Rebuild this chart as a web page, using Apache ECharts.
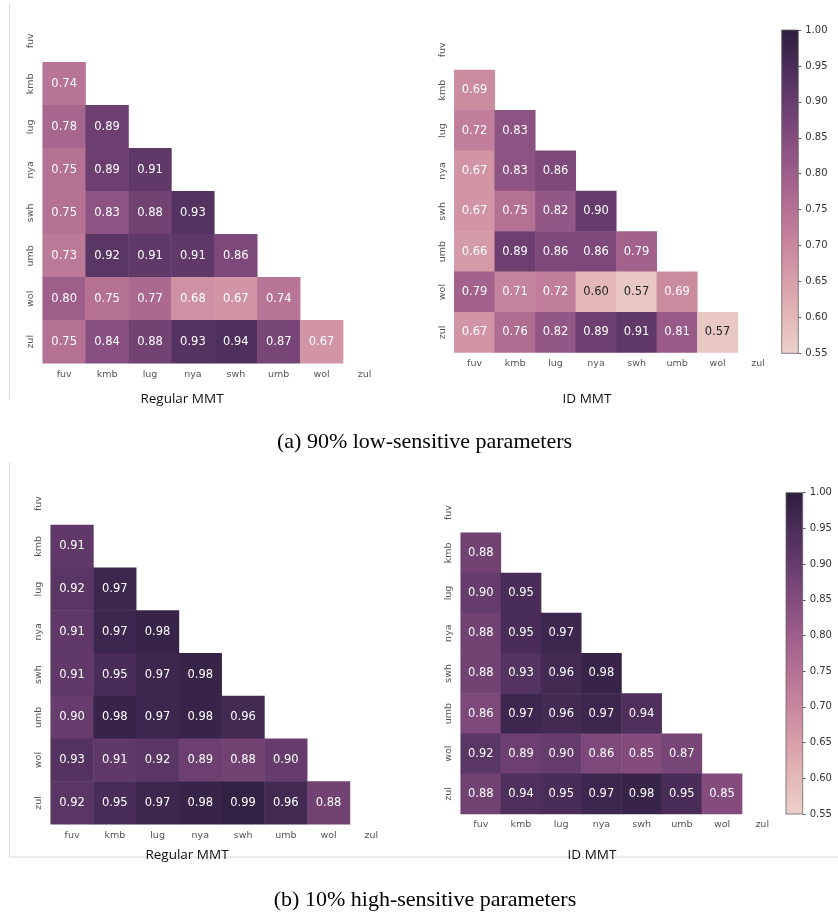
<!DOCTYPE html>
<html>
<head>
<meta charset="utf-8">
<title>MMT similarity heatmaps</title>
<script src="https://cdn.jsdelivr.net/npm/echarts@6/dist/echarts.min.js"></script>
<style>
  html, body { margin: 0; padding: 0; background: #fff; }
  #chart { width: 838px; height: 913px; }
</style>
</head>
<body>
<div id="chart"></div>
<script>
// --- Data ---
const langs = ['fuv', 'kmb', 'lug', 'nya', 'swh', 'umb', 'wol', 'zul'];

// lower triangle, rows kmb..zul, columns fuv..wol
const regular90 = [
  [0.74],
  [0.78, 0.89],
  [0.75, 0.89, 0.91],
  [0.75, 0.83, 0.88, 0.93],
  [0.73, 0.92, 0.91, 0.91, 0.86],
  [0.80, 0.75, 0.77, 0.68, 0.67, 0.74],
  [0.75, 0.84, 0.88, 0.93, 0.94, 0.87, 0.67],
];
const id90 = [
  [0.69],
  [0.72, 0.83],
  [0.67, 0.83, 0.86],
  [0.67, 0.75, 0.82, 0.90],
  [0.66, 0.89, 0.86, 0.86, 0.79],
  [0.79, 0.71, 0.72, 0.60, 0.57, 0.69],
  [0.67, 0.76, 0.82, 0.89, 0.91, 0.81, 0.57],
];
const regular10 = [
  [0.91],
  [0.92, 0.97],
  [0.91, 0.97, 0.98],
  [0.91, 0.95, 0.97, 0.98],
  [0.90, 0.98, 0.97, 0.98, 0.96],
  [0.93, 0.91, 0.92, 0.89, 0.88, 0.90],
  [0.92, 0.95, 0.97, 0.98, 0.99, 0.96, 0.88],
];
const id10 = [
  [0.88],
  [0.90, 0.95],
  [0.88, 0.95, 0.97],
  [0.88, 0.93, 0.96, 0.98],
  [0.86, 0.97, 0.96, 0.97, 0.94],
  [0.92, 0.89, 0.90, 0.86, 0.85, 0.87],
  [0.88, 0.94, 0.95, 0.97, 0.98, 0.95, 0.85],
];

const colorbarMin = 0.55;
const colorbarMax = 1.0;
const colorbarStep = 0.05;

// seaborn cubehelix palette, light -> dark
const palette = [
  '#edd1cb', '#e4b8b8', '#d89faa', '#c8879e', '#b57194',
  '#9d5e8a', '#834c7d', '#663c6d', '#492d58', '#2d1e3e',
];

// --- Layout ---
const panels = [
  { rows: regular90, grid: { left: 42.7, top: 19.3, width: 343.3, height: 344 } },
  { rows: id90, grid: { left: 454.3, top: 29.6, width: 324, height: 323 } },
  { rows: regular10, grid: { left: 50.7, top: 482.2, width: 342, height: 342 } },
  { rows: id10, grid: { left: 460.7, top: 492.5, width: 321.6, height: 321.5 } },
];
const colorbars = [
  { left: 781.7, top: 30, width: 16.6, height: 323.3 },
  { left: 786, top: 492.7, width: 16.7, height: 321.3 },
];

const LABEL_FONT = 'DejaVu Sans';

function toCells(rows) {
  const cells = [];
  rows.forEach((row, r) => {
    row.forEach((v, c) => {
      cells.push({
        value: [c, r + 1, v],
        label: { color: v < 0.65 ? '#262626' : '#ffffff' },
      });
    });
  });
  return cells;
}

function renderColorbar(params, api) {
  const lo = api.coord([api.value(0), api.value(1)]);
  const hi = api.coord([api.value(0), api.value(2)]);
  const w = api.size([1, 0])[0];
  const stops = palette.map((c, i) => ({ offset: i / (palette.length - 1), color: c }));
  return {
    type: 'rect',
    shape: { x: lo[0] - w / 2, y: hi[1], width: w, height: lo[1] - hi[1] },
    style: {
      fill: new echarts.graphic.LinearGradient(0, 1, 0, 0, stops),
      stroke: '#666',
      lineWidth: 0.8,
    },
  };
}

function getChartOption() {
  const grid = [];
  const xAxis = [];
  const yAxis = [];
  const series = [];

  panels.forEach((p, i) => {
    grid.push(p.grid);
    xAxis.push({
      type: 'category',
      gridIndex: i,
      data: langs,
      axisLine: { show: false },
      axisTick: { show: false },
      splitLine: { show: false },
      axisLabel: { color: '#555', fontSize: 9.5, fontFamily: LABEL_FONT, margin: 6 },
    });
    yAxis.push({
      type: 'category',
      gridIndex: i,
      data: langs,
      inverse: true,
      axisLine: { show: false },
      axisTick: { show: false },
      splitLine: { show: false },
      axisLabel: { color: '#555', fontSize: 9.5, fontFamily: LABEL_FONT, margin: 7, rotate: 90 },
    });
    series.push({
      type: 'heatmap',
      xAxisIndex: i,
      yAxisIndex: i,
      data: toCells(p.rows),
      label: {
        show: true,
        fontSize: 11.5,
        fontFamily: LABEL_FONT,
        formatter: (d) => d.value[2].toFixed(2),
      },
      emphasis: { disabled: true },
    });
  });

  colorbars.forEach((cb, k) => {
    const gi = panels.length + k;
    grid.push(cb);
    xAxis.push({
      type: 'category',
      gridIndex: gi,
      data: ['cb'],
      show: false,
    });
    yAxis.push({
      type: 'value',
      gridIndex: gi,
      position: 'right',
      min: colorbarMin,
      max: colorbarMax,
      interval: colorbarStep,
      axisLine: { show: false },
      axisTick: { show: true, length: 3, lineStyle: { color: '#333', width: 0.8 } },
      splitLine: { show: false },
      axisLabel: {
        color: '#333',
        fontSize: 10,
        fontFamily: LABEL_FONT,
        margin: 7,
        formatter: (v) => v.toFixed(2),
      },
    });
    series.push({
      type: 'custom',
      xAxisIndex: gi,
      yAxisIndex: gi,
      renderItem: renderColorbar,
      encode: { x: 0, y: [1, 2] },
      data: [[0, colorbarMin, colorbarMax]],
      silent: true,
    });
  });

  const subTitle = (text, x, y) => ({
    type: 'text',
    x,
    y,
    style: {
      text,
      fill: '#111',
      font: '13.5px "Open Sans"',
      textAlign: 'center',
      textVerticalAlign: 'middle',
    },
  });
  const caption = (text, x, y) => ({
    type: 'text',
    x,
    y,
    style: {
      text,
      fill: '#000',
      font: '22px "Liberation Serif"',
      textAlign: 'center',
      textVerticalAlign: 'middle',
    },
  });
  const rule = (x1, y1, x2, y2) => ({
    type: 'line',
    shape: { x1, y1, x2, y2 },
    style: { stroke: '#d8d8d8', lineWidth: 1 },
  });

  return {
    animation: false,
    backgroundColor: '#fff',
    grid,
    xAxis,
    yAxis,
    visualMap: {
      show: false,
      type: 'continuous',
      seriesIndex: [0, 1, 2, 3],
      dimension: 2,
      min: colorbarMin,
      max: colorbarMax,
      inRange: { color: palette },
    },
    series,
    graphic: [
      rule(9.5, 4, 9.5, 399),
      rule(9.5, 462, 9.5, 857),
      rule(9.5, 857, 838, 857),
      subTitle('Regular MMT', 182, 399),
      subTitle('ID MMT', 587, 399),
      subTitle('Regular MMT', 187, 855),
      subTitle('ID MMT', 592, 855),
      caption('(a) 90% low-sensitive parameters', 424.5, 442),
      caption('(b) 10% high-sensitive parameters', 425, 900),
    ],
  };
}

const chart = echarts.init(document.getElementById('chart'));
chart.setOption(getChartOption());
</script>
</body>
</html>
